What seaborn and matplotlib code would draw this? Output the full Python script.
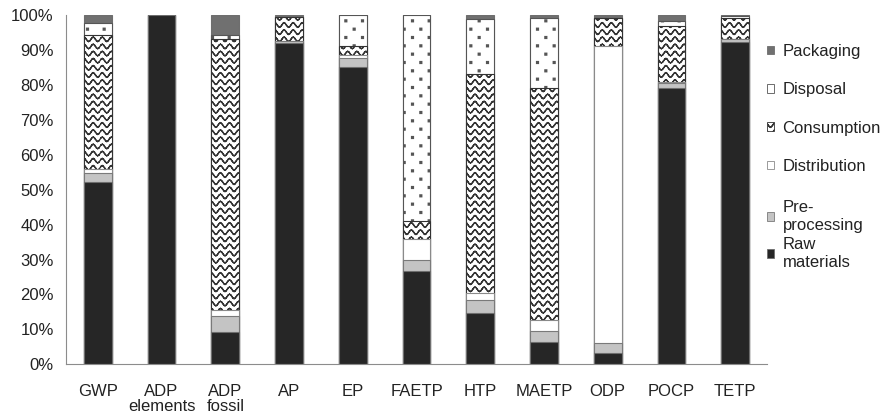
import numpy as np
import pandas as pd
import matplotlib
matplotlib.use("Agg")
import matplotlib.pyplot as plt
import matplotlib.hatch as mhatch
from matplotlib.path import Path
from matplotlib.patches import Patch
from matplotlib.ticker import FixedLocator
import seaborn as sns

# ---------------- data ----------------
categories = ["GWP", "ADP\nelements", "ADP\nfossil", "AP", "EP", "FAETP",
              "HTP", "MAETP", "ODP", "POCP", "TETP"]
raw_materials = [52.3, 100.0, 9.3, 92.0, 85.3, 26.7, 14.8, 6.3, 3.3, 79.3, 92.3]
pre_processing = [2.4, 0.0, 4.4, 0.5, 2.4, 3.2, 3.6, 3.3, 2.9, 1.2, 1.0]
distribution = [1.3, 0.0, 1.9, 0.0, 0.9, 5.9, 2.1, 3.1, 85.1, 0.5, 0.0]
consumption = [38.4, 0.0, 77.5, 7.0, 2.6, 5.3, 62.7, 66.4, 8.0, 16.0, 6.0]
disposal = [3.3, 0.0, 1.2, 0.0, 8.8, 58.9, 15.8, 20.2, 0.0, 1.4, 0.4]
packaging = [2.3, 0.0, 5.7, 0.5, 0.0, 0.0, 1.0, 0.7, 0.7, 1.6, 0.3]
y_ticks = [0, 10, 20, 30, 40, 50, 60, 70, 80, 90, 100]
y_tick_labels = [f"{v}%" for v in y_ticks]

stages = ["Raw materials", "Pre-processing", "Distribution",
          "Consumption", "Disposal", "Packaging"]
series = [raw_materials, pre_processing, distribution,
          consumption, disposal, packaging]


# ---------------- custom hatch patterns (wave for '-', sparse dots for '.') ----------------
class WaveHatch(mhatch.HatchPatternBase):
    def __init__(self, hatch, density):
        n = hatch.count('-')
        self.rows = 14 * n if n else 0
        self.periods = 11
        self.nseg = 8 * self.periods
        self.num_vertices = self.rows * self.nseg * 2

    def set_vertices_and_codes(self, vertices, codes):
        amp = 0.022
        xs = np.linspace(0, 1, self.nseg + 1)
        k = 0
        for r in range(self.rows):
            y0 = (r + 0.5) / self.rows
            ys = y0 + amp * np.sin(2 * np.pi * self.periods * xs)
            for s in range(self.nseg):
                vertices[k] = (xs[s], ys[s])
                vertices[k + 1] = (xs[s + 1], ys[s + 1])
                codes[k] = Path.MOVETO
                codes[k + 1] = Path.LINETO
                k += 2


class DotHatch(mhatch.HatchPatternBase):
    def __init__(self, hatch, density):
        n = hatch.count('.')
        self.rows = 12 if n else 0
        self.cols = 6
        self.num_vertices = self.rows * self.cols * 5

    def set_vertices_and_codes(self, vertices, codes):
        h = 0.009
        k = 0
        for r in range(self.rows):
            y = (r + 0.5) / self.rows
            shift = 0.25 if r % 2 == 0 else 0.75
            for c in range(self.cols):
                x = (c + shift) / self.cols
                vertices[k:k + 5] = [(x - h, y - h), (x + h, y - h),
                                     (x + h, y + h), (x - h, y + h),
                                     (x - h, y - h)]
                codes[k] = Path.MOVETO
                codes[k + 1:k + 4] = Path.LINETO
                codes[k + 4] = Path.CLOSEPOLY
                k += 5


mhatch._hatch_types[:] = [WaveHatch, DotHatch]

# ---------------- style ----------------
sns.set_style("white")
plt.rcParams["font.family"] = ["Liberation Sans", "DejaVu Sans"]
plt.rcParams["hatch.linewidth"] = 1.0
text_color = "#222222"
axis_gray = "#8c8c8c"
fs = 12

colors = {"Raw materials": "#262626", "Pre-processing": "#c4c4c4",
          "Distribution": "#ffffff", "Consumption": "#ffffff",
          "Disposal": "#ffffff", "Packaging": "#707070"}
hatches = {"Raw materials": None, "Pre-processing": None, "Distribution": None,
           "Consumption": "-", "Disposal": ".", "Packaging": None}
edges = {"Raw materials": "#6e6e6e", "Pre-processing": "#7a7a7a",
         "Distribution": "#8a8a8a", "Consumption": "#333333",
         "Disposal": "#555555", "Packaging": "#6e6e6e"}

# long-form table with cumulative tops
rows = []
for i, cat in enumerate(categories):
    cum = 0.0
    for st, vals in zip(stages, series):
        cum += vals[i]
        rows.append({"category": cat, "stage": st, "top": min(cum, 100.0)})
df = pd.DataFrame(rows)

fig = plt.figure(figsize=(8.82, 4.17), dpi=100)
ax = fig.add_axes([66 / 882, 52.7 / 417, (767 - 66) / 882, (364.3 - 15.3) / 417])

# draw from the top layer down so each lower layer covers the ones above
for st in reversed(stages):
    sub = df[df["stage"] == st]
    sns.barplot(data=sub, x="category", y="top", order=categories,
                color=colors[st], saturation=1, width=0.435, errorbar=None,
                edgecolor=edges[st], linewidth=0.8, hatch=hatches[st], ax=ax)

ax.set_xlim(-0.5, len(categories) - 0.5)
ax.set_ylim(0, 100)
ax.set_yticks(y_ticks)
ax.set_yticklabels(y_tick_labels)
ax.set_xlabel("")
ax.set_ylabel("")

for s in ["top", "right"]:
    ax.spines[s].set_visible(False)
for s in ["left", "bottom"]:
    ax.spines[s].set_color(axis_gray)
    ax.spines[s].set_linewidth(0.8)

ax.tick_params(axis="y", which="major", length=4.3, width=0.8, color=axis_gray,
               labelcolor=text_color, labelsize=fs, pad=4.5, direction="out")
ax.tick_params(axis="x", which="major", length=0, labelcolor=text_color,
               labelsize=fs, pad=14)
ax.xaxis.set_minor_locator(FixedLocator(np.arange(-0.5, len(categories), 1.0)))
ax.tick_params(axis="x", which="minor", length=3.6, width=0.8, color=axis_gray,
               direction="out")
for lbl in ax.get_xticklabels():
    lbl.set_linespacing(1.05)

# legends
def handle(st):
    return Patch(facecolor=colors[st], edgecolor=edges[st], linewidth=0.6,
                 hatch=hatches[st])

top_stages = ["Packaging", "Disposal", "Consumption", "Distribution"]
bot_stages = ["Pre-processing", "Raw materials"]
bot_labels = ["Pre-\nprocessing", "Raw\nmaterials"]

leg_kw = dict(loc="upper left", frameon=False, borderpad=0, borderaxespad=0,
              handlelength=0.43, handleheight=0.43, handletextpad=0.5,
              fontsize=fs, labelcolor=text_color)
leg1 = fig.legend(handles=[handle(s) for s in top_stages], labels=top_stages,
                  bbox_to_anchor=(767 / 882, 1 - 44 / 417), labelspacing=1.4,
                  **leg_kw)
leg2 = fig.legend(handles=[handle(s) for s in bot_stages], labels=bot_labels,
                  bbox_to_anchor=(767 / 882, 1 - 200 / 417), labelspacing=0.25,
                  **leg_kw)
for t in leg2.get_texts():
    t.set_linespacing(1.25)

fig.savefig("out.png", dpi=100)
